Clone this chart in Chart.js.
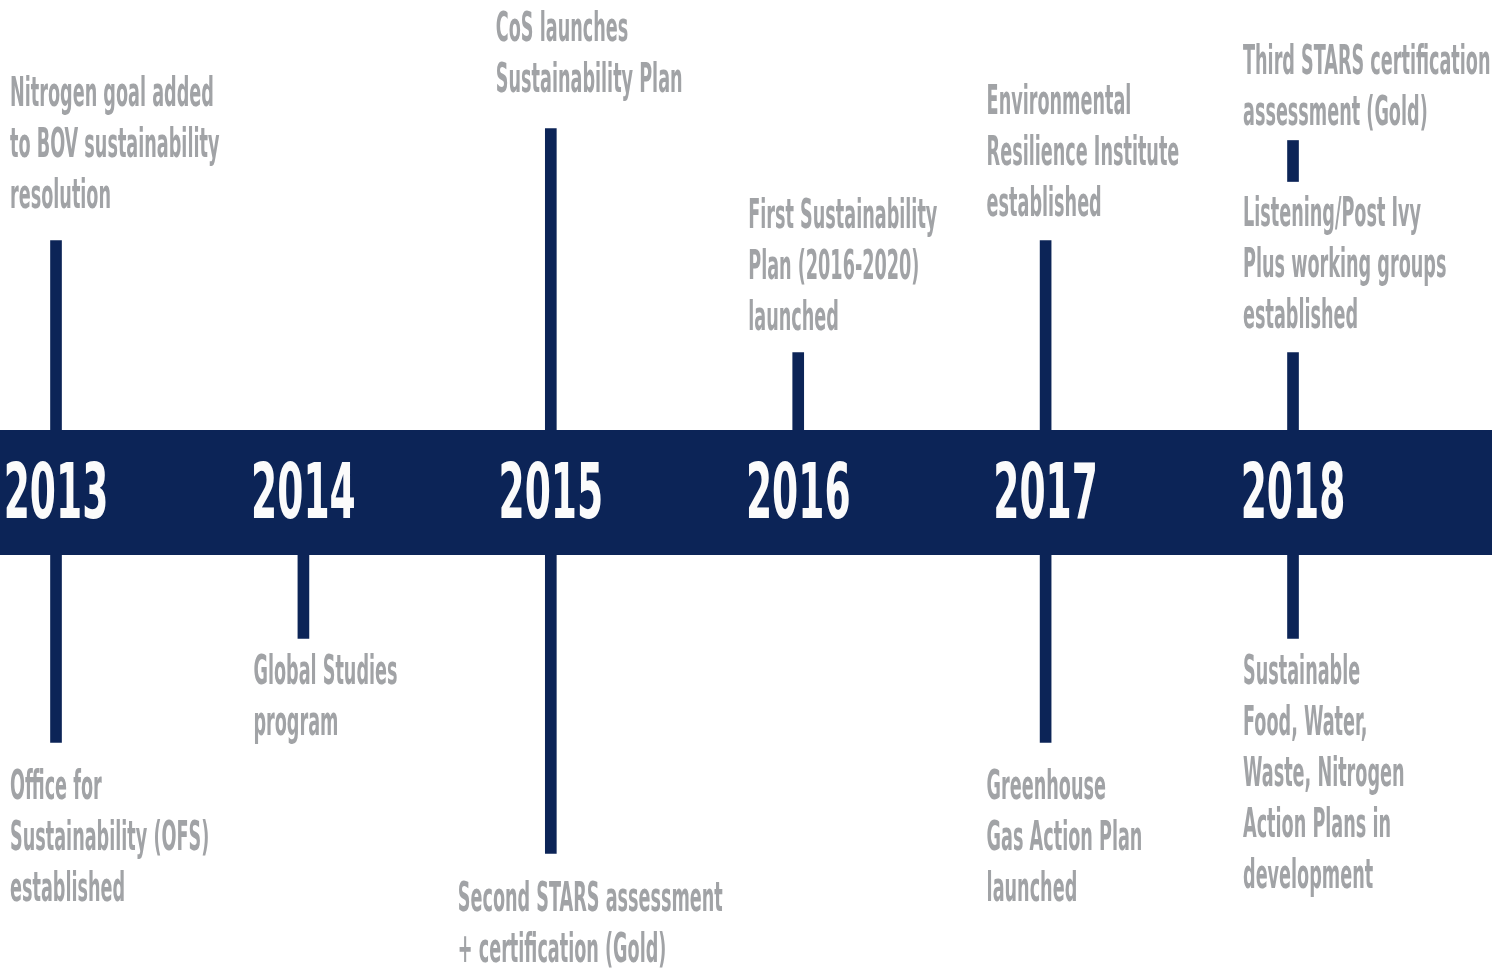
<!DOCTYPE html>
<html>
<head>
<meta charset="utf-8">
<script src="https://cdn.jsdelivr.net/npm/chart.js@4.4.1/dist/chart.umd.min.js"></script>
<style>
  html, body { margin: 0; padding: 0; background: #fff; }
</style>
</head>
<body>
<canvas id="timeline" width="1492" height="968"></canvas>
<script>
// ---- data ----
const years = [2013, 2014, 2015, 2016, 2017, 2018];

// milestones above the band: year, stub extent (px-like units above band centre), text
const upperYears = [2013, 2015, 2016, 2017, 2018, 2018];
const upperStubs = [[0, 252], [0, 364], [0, 140], [0, 252], [0, 140], [311, 352]];
const upperTexts = [
    ['Nitrogen goal added', 'to BOV sustainability', 'resolution'],
    ['CoS launches', 'Sustainability Plan'],
    ['First Sustainability', 'Plan (2016-2020)', 'launched'],
    ['Environmental', 'Resilience Institute', 'established'],
    ['Listening/Post Ivy', 'Plus working groups', 'established'],
    ['Third STARS certification', 'assessment (Gold)']
];

// milestones below the band
const lowerYears = [2013, 2014, 2015, 2017, 2018];
const lowerStubs = [[0, -250], [0, -146], [0, -361], [0, -250], [0, -146]];
const lowerTexts = [
    ['Office for', 'Sustainability (OFS)', 'established'],
    ['Global Studies', 'program'],
    ['Second STARS assessment', '+ certification (Gold)'],
    ['Greenhouse', 'Gas Action Plan', 'launched'],
    ['Sustainable', 'Food, Water,', 'Waste, Nitrogen', 'Action Plans in', 'development']
];

// ---- layout / style ----
const navy = '#0c2457';
const grey = '#a1a3a6';
const bandHalf = 62.5;
const xMin = 2012.7736, xMax = 2018.8043;
const yMin = -475.5, yMax = 492.5;
const lineGap = 51;
const textFont = 'bold 40px "DejaVu Sans Condensed", "Liberation Sans Narrow", sans-serif';
const textSx = 0.49;
const yearFont = 'bold 76px "DejaVu Sans Condensed", "Liberation Sans Narrow", sans-serif';
const yearSx = 0.55;
// text offsets: dx from stub centre, gap from stub end to nearest baseline
const upperDx = [-46, -55, -50, -59, -50, -50];
const upperGap = [33, 37, 23, 25, 25, 16];
const lowerDx = [-46, -50, -93, -59, -50];
const lowerGap = [56, 45, 57, 56, 45];

function drawCondensed(ctx, text, px, py, sx) {
    ctx.save();
    ctx.translate(px, py);
    ctx.scale(sx, 1);
    ctx.fillText(text, 0, 0);
    ctx.restore();
}

const labelPlugin = {
    id: 'timelineLabels',
    afterDatasetsDraw(chart) {
        const ctx = chart.ctx;
        const x = chart.scales.x, y = chart.scales.y;
        ctx.save();
        ctx.textBaseline = 'alphabetic';

        // year labels inside the band
        ctx.fillStyle = '#fbfbfb';
        ctx.font = yearFont;
        ctx.textAlign = 'center';
        years.forEach(function(yr) {
            drawCondensed(ctx, String(yr), x.getPixelForValue(yr), y.getPixelForValue(0) + 25, yearSx);
        });

        // milestone texts
        ctx.fillStyle = grey;
        ctx.font = textFont;
        ctx.textAlign = 'left';
        upperTexts.forEach(function(lines, i) {
            const px = x.getPixelForValue(upperYears[i]) + upperDx[i];
            const last = y.getPixelForValue(upperStubs[i][1]) - upperGap[i];
            lines.forEach(function(t, j) {
                drawCondensed(ctx, t, px, last - (lines.length - 1 - j) * lineGap, textSx);
            });
        });
        lowerTexts.forEach(function(lines, i) {
            const px = x.getPixelForValue(lowerYears[i]) + lowerDx[i];
            const first = y.getPixelForValue(lowerStubs[i][1]) + lowerGap[i];
            lines.forEach(function(t, j) {
                drawCondensed(ctx, t, px, first + j * lineGap, textSx);
            });
        });
        ctx.restore();
    }
};

new Chart(document.getElementById('timeline'), {
    type: 'bar',
    data: {
        datasets: [
            {
                type: 'line',
                data: [{x: xMin, y: bandHalf}, {x: xMax, y: bandHalf}],
                fill: '+1',
                backgroundColor: navy,
                borderWidth: 0,
                pointRadius: 0
            },
            {
                type: 'line',
                data: [{x: xMin, y: -bandHalf}, {x: xMax, y: -bandHalf}],
                fill: false,
                borderWidth: 0,
                pointRadius: 0
            },
            {
                data: upperYears.map((yr, i) => ({x: yr, y: upperStubs[i]})),
                backgroundColor: navy,
                barThickness: 11,
                grouped: false
            },
            {
                data: lowerYears.map((yr, i) => ({x: yr, y: lowerStubs[i]})),
                backgroundColor: navy,
                barThickness: 11,
                grouped: false
            }
        ]
    },
    options: {
        responsive: false,
        animation: false,
        devicePixelRatio: 1,
        layout: { padding: 0 },
        scales: {
            x: { type: 'linear', min: xMin, max: xMax, offset: false, display: false },
            y: { type: 'linear', min: yMin, max: yMax, display: false }
        },
        plugins: {
            legend: { display: false },
            tooltip: { enabled: false }
        }
    },
    plugins: [labelPlugin]
});
</script>
</body>
</html>
